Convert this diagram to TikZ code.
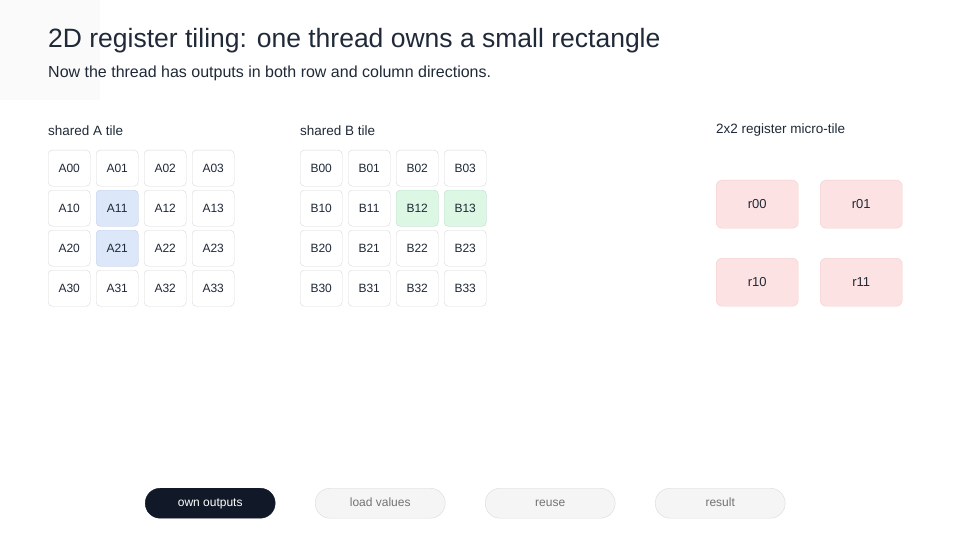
\documentclass[tikz,border=0pt]{standalone}
\usepackage{fontspec}
\setmainfont{Liberation Sans}
\definecolor{hblue}{HTML}{DCE8FA}
\definecolor{hblueb}{HTML}{C4D4EE}
\definecolor{hgreen}{HTML}{DDF7E5}
\definecolor{hgreenb}{HTML}{C2E6CD}
\definecolor{hred}{HTML}{FDE2E3}
\definecolor{hredb}{HTML}{F2CCCE}
\definecolor{navy}{HTML}{111827}
\definecolor{ink}{HTML}{1F2937}
\begin{document}
\begin{tikzpicture}[x=1pt,y=-1pt,
  cell/.style={draw=black!15,fill=white,rounded corners=4pt,minimum width=42pt,minimum height=36pt,inner sep=0pt,font=\fontsize{12}{14}\selectfont,text=ink,anchor=north west},
  ablue/.style={fill=hblue,draw=hblueb},
  bgreen/.style={fill=hgreen,draw=hgreenb},
  reg/.style={draw=hredb,fill=hred,rounded corners=6pt,minimum width=82pt,minimum height=48pt,inner sep=0pt,font=\fontsize{13}{15}\selectfont,text=ink,anchor=north west},
  btn/.style={rounded corners=15pt,minimum width=130pt,minimum height=30pt,inner sep=0pt,text height=9pt,text depth=2.5pt,font=\fontsize{12}{14}\selectfont,anchor=north west},
  idle/.style={btn,draw=black!15,fill=black!4,text=black!55},
  lbl/.style={anchor=base west,inner sep=0pt,font=\fontsize{13.5}{15}\selectfont,text=ink}]
\useasboundingbox (0,0) rectangle (960,540);
\fill[black!2] (0,0) rectangle (100,100);
\node[anchor=base west,inner sep=0pt,font=\fontsize{26.5}{30}\selectfont,text=ink] (title) at (48,48) {2D register tiling: one thread owns a small rectangle};
\node[anchor=base west,inner sep=0pt,font=\fontsize{16}{19}\selectfont,text=ink] (sub) at (48,78) {Now the thread has outputs in both row and column directions.};
\node[lbl] (la) at (48,136) {shared A tile};
\node[lbl] (lb) at (300,136) {shared B tile};
\node[lbl] (lr) at (716,134) {2x2 register micro-tile};
\foreach \r in {0,...,3}{\foreach \c in {0,...,3}{
  \node[cell] (A\r\c) at (48+48*\c,150+40*\r) {A\r\c};
  \node[cell] (B\r\c) at (300+48*\c,150+40*\r) {B\r\c};
}}
\node[cell,ablue] at (A11.north west) {A11};
\node[cell,ablue] at (A21.north west) {A21};
\node[cell,bgreen] at (B12.north west) {B12};
\node[cell,bgreen] at (B13.north west) {B13};
\node[reg] (r00) at (716,180) {r00};
\node[reg] (r01) at (820,180) {r01};
\node[reg] (r10) at (716,258) {r10};
\node[reg] (r11) at (820,258) {r11};
\node[btn,fill=navy,draw=navy,text=white] (b1) at (145,488) {own outputs};
\node[idle] (b2) at (315,488) {load values};
\node[idle] (b3) at (485,488) {reuse};
\node[idle] (b4) at (655,488) {result};
\end{tikzpicture}
\end{document}
